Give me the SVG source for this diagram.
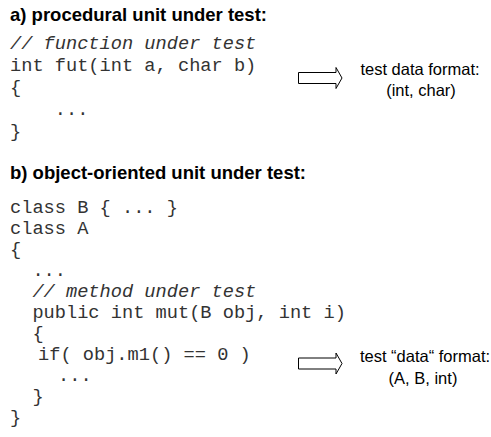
<svg xmlns="http://www.w3.org/2000/svg" width="491" height="437" viewBox="0 0 491 437">
  <defs>
    <style>
      .head { font-family: "Liberation Sans", Arial, sans-serif; font-weight: bold; font-size: 18.5px; fill: #000; }
      .code { font-family: "Liberation Mono", "Courier New", monospace; font-size: 18.67px; fill: #333; white-space: pre; }
      .cmt { font-style: italic; }
      .lbl { font-family: "Liberation Sans", Arial, sans-serif; font-size: 16.5px; fill: #000; text-anchor: middle; }
      .arrow { fill: #fff; stroke: #000; stroke-width: 1; stroke-linejoin: miter; }
    </style>
  </defs>
  <rect width="491" height="437" fill="#fff"/>

  <!-- a) procedural unit -->
  <g id="heading-a">
    <text class="head" x="10" y="21">a) procedural unit under test:</text>
  </g>
  <g id="code-a">
    <text class="code cmt" x="10" y="49" xml:space="preserve">// function under test</text>
    <text class="code" x="10" y="71" xml:space="preserve">int fut(int a, char b)</text>
    <text class="code" x="10" y="93" xml:space="preserve">{</text>
    <text class="code" x="10" y="115" xml:space="preserve">    ...</text>
    <text class="code" x="10" y="137" xml:space="preserve">}</text>
  </g>
  <g id="format-a">
    <text class="lbl" x="420" y="75">test data format:</text>
    <text class="lbl" x="421" y="96">(int, char)</text>
  </g>

  <!-- b) object-oriented unit -->
  <g id="heading-b">
    <text class="head" x="10" y="179">b) object-oriented unit under test:</text>
  </g>
  <g id="code-b">
    <text class="code" x="10" y="213" xml:space="preserve">class B { ... }</text>
    <text class="code" x="10" y="234" xml:space="preserve">class A</text>
    <text class="code" x="10" y="255" xml:space="preserve">{</text>
    <text class="code" x="10" y="276" xml:space="preserve">  ...</text>
    <text class="code cmt" x="10" y="297" xml:space="preserve">  // method under test</text>
    <text class="code" x="10" y="318" xml:space="preserve">  public int mut(B obj, int i)</text>
    <text class="code" x="10" y="339" xml:space="preserve">  {</text>
    <text class="code" x="38" y="360" xml:space="preserve">if( obj.m1() == 0 )</text>
    <text class="code" x="58" y="381" xml:space="preserve">...</text>
    <text class="code" x="10" y="402" xml:space="preserve">  }</text>
    <text class="code" x="10" y="423" xml:space="preserve">}</text>
  </g>
  <g id="format-b">
    <text class="lbl" x="425" y="362">test “data“ format:</text>
    <text class="lbl" x="423" y="384">(A, B, int)</text>
  </g>

  <!-- block arrows from code to test data format -->
  <g id="connectors">
    <polygon class="arrow" points="298.5,72.5 336,72.5 336,67.5 342,78 336,88.5 336,83.5 298.5,83.5"/>
    <polygon class="arrow" points="298.5,358 336,358 336,353 342,363.5 336,374 336,369 298.5,369"/>
  </g>
</svg>
